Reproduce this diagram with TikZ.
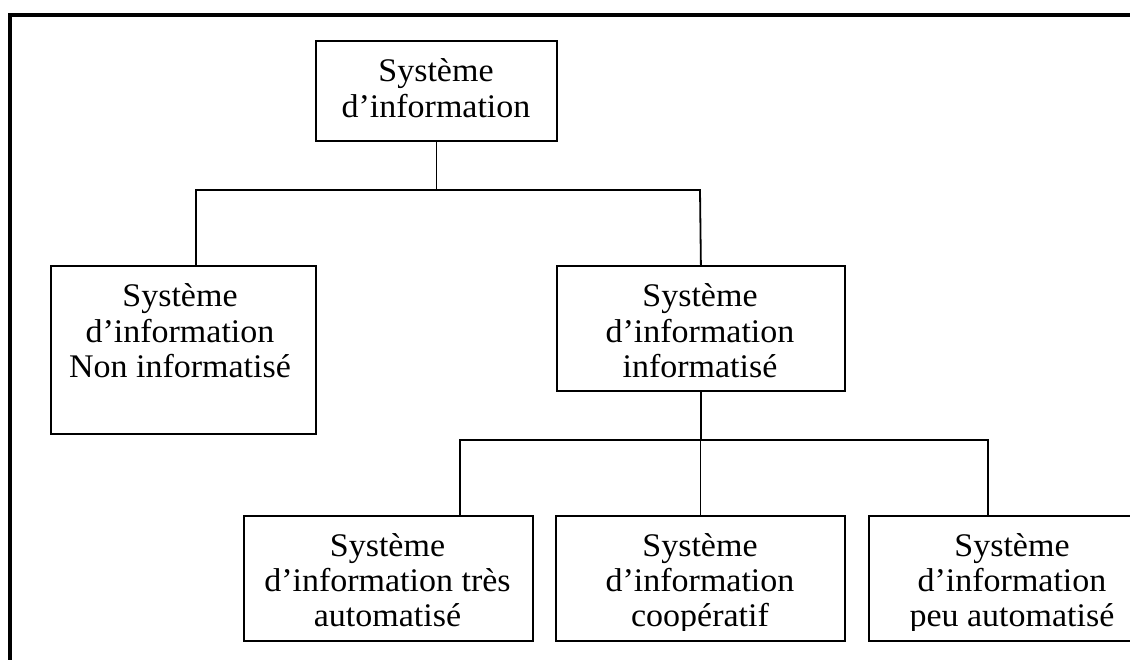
\documentclass[tikz,border=0pt]{standalone}
\usepackage{fontspec}
\setmainfont{Liberation Serif}[FakeStretch=1.03]
\begin{document}
\begin{tikzpicture}[x=1pt,y=-1pt,
  box/.style={draw, line width=1.8pt, inner sep=0pt, anchor=north west},
  txt/.style={anchor=base, inner sep=0pt, font=\fontsize{33}{35.3}\selectfont},
  link/.style={line width=1.8pt},
  frame/.style={line width=3.5pt}]
\useasboundingbox (0,0) rectangle (1130,660);
\clip (0,0) rectangle (1130,660);
% outer frame
\coordinate (fa) at (10,660);
\coordinate (fb) at (10,15);
\coordinate (fc) at (1130,15);
\draw[frame] (fa) -- (fb) -- (fc);
% boxes
\node[box, minimum width=241pt, minimum height=100pt] (top) at (315,40) {};
\node[box, minimum width=265pt, minimum height=168pt] (left) at (50,265) {};
\node[box, minimum width=288pt, minimum height=125pt] (mid) at (556,265) {};
\node[box, minimum width=289pt, minimum height=125pt] (b1) at (243,515) {};
\node[box, minimum width=289pt, minimum height=125pt] (b2) at (555,515) {};
\node[box, minimum width=290pt, minimum height=125pt] (b3) at (868,515) {};
% connectors
\coordinate (j1) at (196,190);
\coordinate (j2) at (700,190);
\draw[link] (top.south) -- (top.south |- j1);
\draw[link] (left.north -| j1) -- (j1) -- (j2) -- (mid.north);
\coordinate (k1) at (460,440);
\coordinate (k3) at (988,440);
\draw[link] (mid.south) -- (mid.south |- k1);
\draw[link] (b1.north -| k1) -- (k1) -- (k3) -- (b3.north -| k3);
\draw[link] (b2.north) -- (b2.north |- k1);
% texts
\node[txt] (ttop) at (436,82) {\begin{tabular}[t]{@{}c@{}}Système\\d’information\end{tabular}};
\node[txt] (tleft) at (180,307) {\begin{tabular}[t]{@{}c@{}}Système\\d’information\\Non informatisé\end{tabular}};
\node[txt] (tmid) at (700,307) {\begin{tabular}[t]{@{}c@{}}Système\\d’information\\informatisé\end{tabular}};
\begin{scope}
\clip (0,515) rectangle (1130,630);
\node[txt] (tb1) at (387.5,556) {\begin{tabular}[t]{@{}c@{}}Système\\d’information très\\automatisé\end{tabular}};
\node[txt] (tb2) at (700,556) {\begin{tabular}[t]{@{}c@{}}Système\\d’information\\coopératif\end{tabular}};
\node[txt] (tb3) at (1012,556) {\begin{tabular}[t]{@{}c@{}}Système\\d’information\\peu automatisé\end{tabular}};
\end{scope}
\end{tikzpicture}
\end{document}
